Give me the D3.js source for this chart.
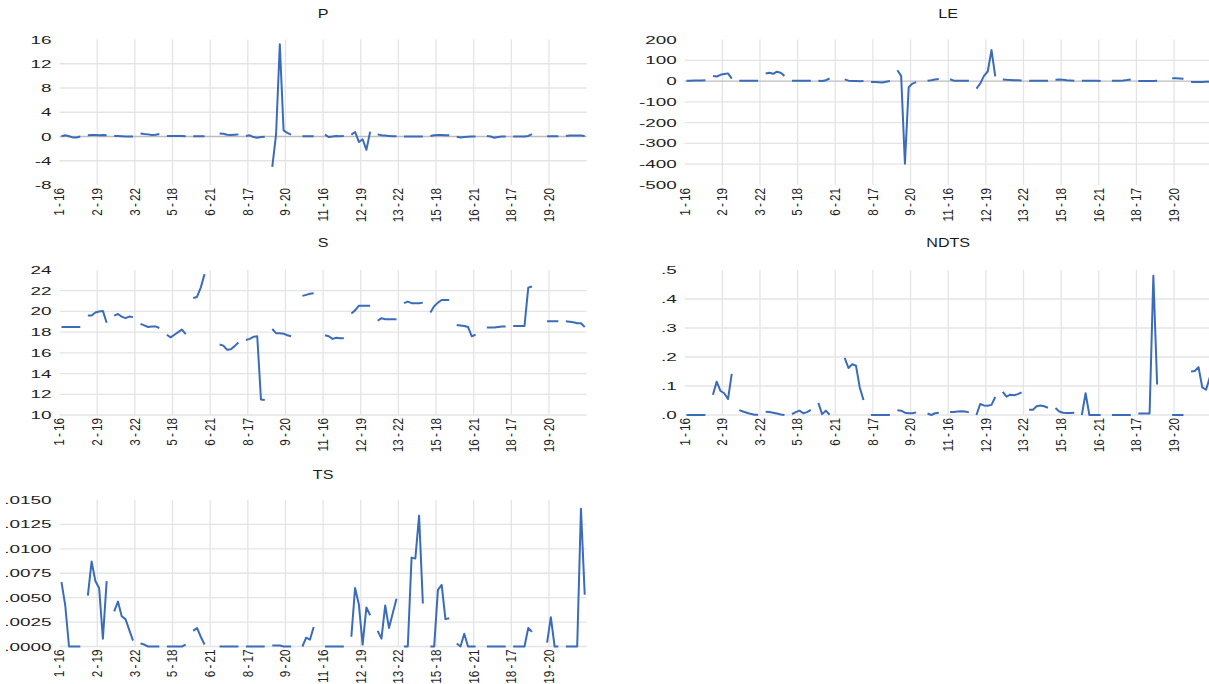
<!DOCTYPE html>
<html><head><meta charset="utf-8">
<script src="https://cdn.jsdelivr.net/npm/d3@7"></script>
<style>html,body{margin:0;padding:0;background:#fff;} svg{display:block;}</style>
</head><body><svg id="c" width="1209" height="684"></svg>
<script>
// ---- categories: cross-section - year ----
const crossSections = d3.range(1, 21);
const years = [16, 17, 18, 19, 20, 21, 22];
const categories = crossSections.flatMap(c => years.map(y => c + " - " + y));
const labelEvery = 10;

// ---- series values (7 per cross-section, null = missing) ----
const P = [
  0.05,0.2,0.05,-0.15,-0.15,0,null,
  0.2,0.25,0.25,0.2,0.25,0.2,null,
  0.1,0.1,0.05,0,0,0,null,
  0.5,0.4,0.35,0.25,0.3,0.4,null,
  0.1,0.1,0.1,0.1,0.1,0.05,null,
  0.05,0.05,0.05,0.05,null,null,null,
  0.5,0.45,0.3,0.25,0.3,0.35,null,
  0.1,0.2,-0.1,-0.2,-0.1,-0.05,null,
  -5.0,0.3,15.2,1.0,0.6,0.3,null,
  null,0.05,0.05,0.05,0.05,null,null,
  0.3,-0.1,0,0.1,0.05,0.1,null,
  0.3,0.75,-0.9,-0.45,-2.2,0.8,null,
  0.35,0.2,0.15,0.1,0.05,0.05,null,
  0,0,0,0,0,0,null,
  0.1,0.2,0.25,0.25,0.2,0.2,null,
  -0.05,-0.15,-0.1,-0.05,0,0,null,
  null,0.1,0,-0.2,-0.1,0,0,
  null,0,0,0,0,0.1,0.4,
  null,null,null,0.05,0.05,0.05,0.05,
  null,0.1,0.15,0.15,0.15,0.15,0.1
];
const LE = [
  2,2,2.5,3,3,4,null,
  24,22,30,34,37,12,null,
  2,1,1,1,1,1,null,
  36,40,35,45,40,25,null,
  2,2,2,2,2,2,null,
  1,0,4,13,null,null,null,
  8,2,0,0,-1,0,null,
  -4,-5,-6,-7,-3,0,null,
  52,25,-398,-30,-12,-5,null,
  null,2,4,8,10,null,null,
  9,2,1,1,1,1,null,
  -36,-12,25,46,149,23,null,
  8,6,5,4,4,3,null,
  1,1,1,1,1,1,null,
  6,7,6,4,3,2,null,
  2,2,2,2,1,0,null,
  null,1,2,2,3,5,8,
  null,0,0,0,0,0,1,
  null,null,null,14,13,12,11,
  null,-4,-4,-4,-4,-3,-3
];
const S = [
  18.5,18.5,18.5,18.5,18.5,18.5,null,
  19.6,19.6,19.9,20.0,20.05,18.9,null,
  19.6,19.75,19.5,19.35,19.5,19.45,null,
  18.8,18.65,18.5,18.55,18.55,18.4,null,
  17.75,17.5,17.75,18.0,18.25,17.8,null,
  21.3,21.4,22.3,23.6,null,null,null,
  16.8,16.7,16.3,16.35,16.65,17.0,null,
  17.25,17.35,17.55,17.6,11.5,11.45,null,
  18.3,17.9,17.9,17.85,17.7,17.6,null,
  null,21.5,21.6,21.7,21.75,null,null,
  17.7,17.6,17.35,17.45,17.4,17.4,null,
  19.8,20.1,20.55,20.55,20.55,20.55,null,
  19.1,19.35,19.25,19.25,19.25,19.25,null,
  20.8,20.95,20.8,20.8,20.8,20.85,null,
  19.9,20.5,20.85,21.1,21.1,21.1,null,
  18.7,18.65,18.6,18.5,17.6,17.75,null,
  null,18.45,18.45,18.45,18.5,18.55,18.55,
  null,18.6,18.6,18.6,18.6,22.3,22.4,
  null,null,null,19.05,19.05,19.05,19.05,
  null,19.05,19.0,18.95,18.85,18.85,18.5
];
const NDTS = [
  0,0,0,0,0,0,null,
  0.07,0.115,0.083,0.075,0.055,0.142,null,
  0.017,0.012,0.008,0.004,0.001,0.001,null,
  0.011,0.01,0.008,0.005,0.002,0.0,null,
  0.003,0.01,0.015,0.006,0.01,0.018,null,
  0.042,0.003,0.015,0.001,null,null,null,
  0.197,0.162,0.175,0.17,0.095,0.052,null,
  0,0,0,0,0,0,null,
  0.016,0.015,0.008,0.006,0.006,0.009,null,
  null,0.005,0.0,0.006,0.008,null,null,
  0.01,0.01,0.012,0.013,0.012,0.009,null,
  0.0,0.038,0.033,0.032,0.035,0.062,null,
  0.08,0.063,0.07,0.068,0.072,0.078,null,
  0.018,0.018,0.03,0.033,0.03,0.025,null,
  0.024,0.012,0.008,0.007,0.007,0.008,null,
  0,0.075,0,0,0,0,null,
  null,0,0,0,0,0,0,
  null,0.005,0.005,0.005,0.005,0.48,0.105,
  null,null,null,0,0,0,0,
  null,0.15,0.152,0.165,0.095,0.087,0.13
];
const TS = [
  0.0066,0.0042,0,0,0,0,null,
  0.0052,0.0087,0.0067,0.006,0.0008,0.0067,null,
  0.0036,0.0046,0.0031,0.0028,0.0017,0.0006,null,
  0.0003,0.0002,0,0,0,0,null,
  0,0,0,0,0,0.0002,null,
  0.0016,0.0019,0.001,0.0002,null,null,null,
  0,0,0,0,0,0,null,
  0,0,0,0,0,0,null,
  0.0001,0.0001,0.0001,0,0,0,null,
  null,0,0.0009,0.0007,0.002,null,null,
  0,0,0,0,0,0,null,
  0.001,0.006,0.0043,0.0002,0.004,0.0032,null,
  0.0016,0.0008,0.0042,0.0019,0.0034,0.0049,null,
  0,0,0.0091,0.009,0.0134,0.0044,null,
  0,0,0.0058,0.0063,0.0028,0.0029,null,
  0.0003,0,0.0013,0,0,0,null,
  null,0,0,0,0,0,0,
  null,0,0,0,0,0.0019,0.0015,
  null,null,null,0.0004,0.003,0,0,
  null,0,0,0,0,0.0141,0.0053
];

// ---- tick values and labels ----
const P_TICKS = [16,12,8,4,0,-4,-8];
const P_LABELS = ["16","12","8","4","0","-4","-8"];
const LE_TICKS = [200,100,0,-100,-200,-300,-400,-500];
const LE_LABELS = ["200","100","0","-100","-200","-300","-400","-500"];
const S_TICKS = [24,22,20,18,16,14,12,10];
const S_LABELS = ["24","22","20","18","16","14","12","10"];
const NDTS_TICKS = [0.5,0.4,0.3,0.2,0.1,0.0];
const NDTS_LABELS = [".5",".4",".3",".2",".1",".0"];
const TS_TICKS = [0.015,0.0125,0.01,0.0075,0.005,0.0025,0];
const TS_LABELS = [".0150",".0125",".0100",".0075",".0050",".0025",".0000"];
const titles = ["P","LE","S","NDTS","TS"];

// ---- layout ----
const colX = [59.6, 684.7];
const plotW = 527;
const rowY = [[39.5,185],[270,415],[500,646.5]];
const titleY = [14, 243, 475];

const panels = [
  {title:titles[0], values:P,    ticks:P_TICKS,    labels:P_LABELS,    col:0,row:0, zero:true},
  {title:titles[1], values:LE,   ticks:LE_TICKS,   labels:LE_LABELS,   col:1,row:0, zero:true},
  {title:titles[2], values:S,    ticks:S_TICKS,    labels:S_LABELS,    col:0,row:1, zero:false},
  {title:titles[3], values:NDTS, ticks:NDTS_TICKS, labels:NDTS_LABELS, col:1,row:1, zero:false},
  {title:titles[4], values:TS,   ticks:TS_TICKS,   labels:TS_LABELS,   col:0,row:2, zero:false}
];

const svg = d3.select("#c");
svg.append("rect").attr("width",1209).attr("height",684).attr("fill","#fff");
const FONT = "'Liberation Sans', Arial, sans-serif";

panels.forEach(p => {
  const x0 = colX[p.col], x1 = x0 + plotW;
  const [yTop, yBot] = rowY[p.row];
  const x = d3.scaleBand().domain(categories).range([x0, x1]).padding(0);
  const y = d3.scaleLinear().domain([d3.min(p.ticks), d3.max(p.ticks)]).range([yBot, yTop]);
  const g = svg.append("g");
  const labelCats = categories.filter((c,i) => i % labelEvery === 0);

  // vertical gridlines
  g.selectAll(".vg").data(labelCats.slice(1)).join("line")
    .attr("x1", c => x(c)).attr("x2", c => x(c))
    .attr("y1", yTop).attr("y2", yBot)
    .attr("stroke", "#e4e4e4").attr("stroke-width", 1.3);
  // horizontal gridlines
  const maxT = d3.max(p.ticks), minT = d3.min(p.ticks);
  g.selectAll(".hg").data(p.ticks.filter(t => t !== maxT && t !== minT && !(p.zero && t === 0))).join("line")
    .attr("x1", x0).attr("x2", x1)
    .attr("y1", t => y(t)).attr("y2", t => y(t))
    .attr("stroke", "#e4e4e4").attr("stroke-width", 1.3);
  // axis line
  const axisVal = p.zero ? 0 : minT;
  g.append("line").attr("x1", x0).attr("x2", x1)
    .attr("y1", y(axisVal)).attr("y2", y(axisVal))
    .attr("stroke", p.zero ? "#bdbdbd" : "#e4e4e4").attr("stroke-width", 1.3);

  // y tick labels
  g.selectAll(".yl").data(p.ticks).join("text")
    .attr("transform", t => `translate(${x0 - 8},${y(t)}) scale(1.35,0.82)`)
    .attr("text-anchor", "end").attr("dominant-baseline", "central")
    .attr("font-family", FONT).attr("font-size", 14).attr("fill", "#1f1f1f")
    .text((t,i) => p.labels[i]);

  // x labels (rotated)
  g.selectAll(".xl").data(labelCats).join("text")
    .attr("transform", c => `translate(${x(c)},${yBot + 3}) scale(1.15,0.97) rotate(-90)`)
    .attr("text-anchor", "end").attr("dominant-baseline", "central")
    .attr("font-family", FONT).attr("font-size", 12).attr("word-spacing", -1)
    .attr("fill", "#1f1f1f")
    .text(c => c);

  // title
  g.append("text")
    .attr("transform", `translate(${(x0 + x1) / 2},${titleY[p.row]}) scale(1.15,0.88)`)
    .attr("text-anchor", "middle").attr("dominant-baseline", "central")
    .attr("font-family", FONT).attr("font-size", 14).attr("fill", "#1a1a1a")
    .text(p.title);

  // series line
  const line = d3.line()
    .defined(d => d.v !== null)
    .x(d => x(d.c) + x.bandwidth() / 2)
    .y(d => y(d.v));
  g.append("path")
    .datum(categories.map((c,i) => ({c, v: p.values[i]})))
    .attr("d", line)
    .attr("fill", "none").attr("stroke", "#3b6cb9").attr("stroke-width", 2)
    .attr("stroke-linejoin", "round");
});
</script>
</body></html>
